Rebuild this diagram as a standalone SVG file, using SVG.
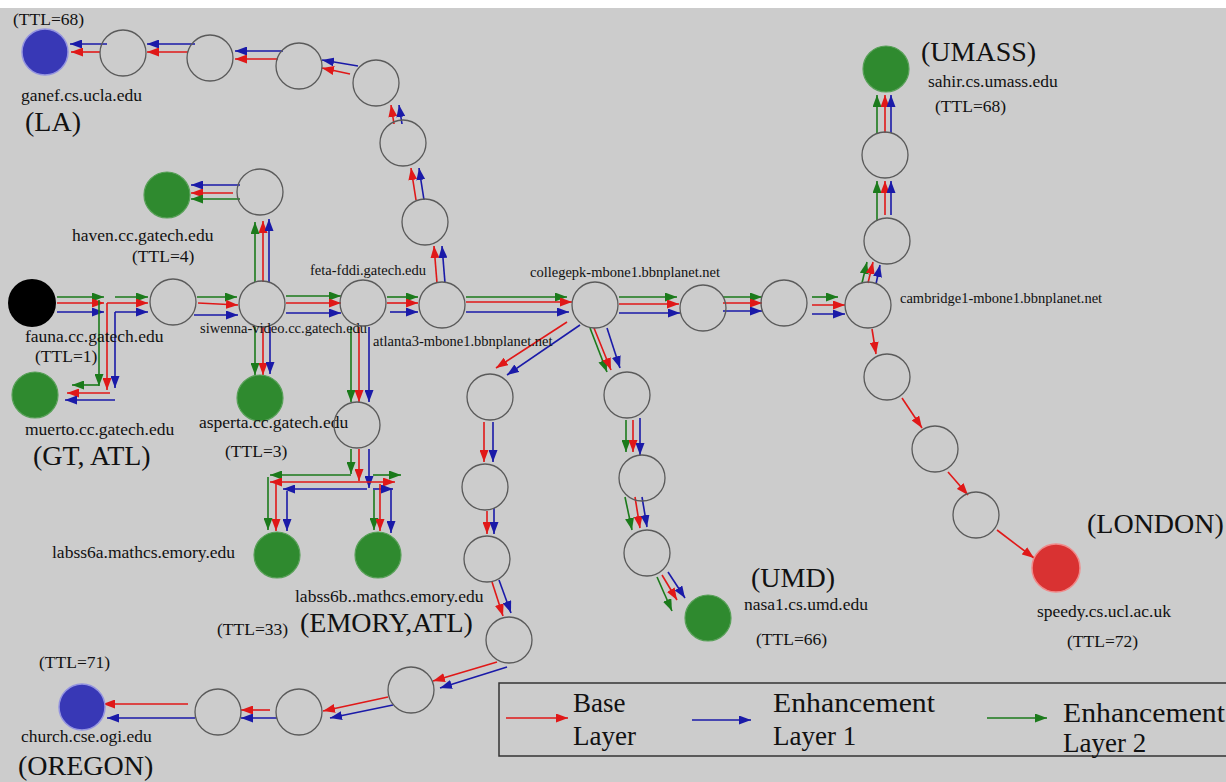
<svg xmlns="http://www.w3.org/2000/svg" width="1226" height="782" viewBox="0 0 1226 782">
<defs>
<marker id="mr" markerUnits="userSpaceOnUse" markerWidth="13" markerHeight="9" refX="12" refY="4.5" orient="auto"><path d="M0,0 L12,4.5 L0,9 z" fill="#e01818"/></marker>
<marker id="mb" markerUnits="userSpaceOnUse" markerWidth="13" markerHeight="9" refX="12" refY="4.5" orient="auto"><path d="M0,0 L12,4.5 L0,9 z" fill="#1a1aa8"/></marker>
<marker id="mg" markerUnits="userSpaceOnUse" markerWidth="13" markerHeight="9" refX="12" refY="4.5" orient="auto"><path d="M0,0 L12,4.5 L0,9 z" fill="#1b7a1b"/></marker>
</defs>
<style>
.r{stroke:#e01818;stroke-width:1.6;marker-end:url(#mr);fill:none}
.b{stroke:#1a1aa8;stroke-width:1.6;marker-end:url(#mb);fill:none}
.g{stroke:#1b7a1b;stroke-width:1.6;marker-end:url(#mg);fill:none}
.rt{fill:none;stroke:#5a5a5a;stroke-width:1.3}
.blue{fill:#3838b6;stroke:#9494e0;stroke-width:1.5}
.green{fill:#2f8a2f;stroke:#58a058;stroke-width:1.2}
.t{font-family:"Liberation Serif","Times New Roman",serif;font-size:17.5px;fill:#111}
.s{font-family:"Liberation Serif","Times New Roman",serif;font-size:14.5px;fill:#111}
.big{font-family:"Liberation Serif","Times New Roman",serif;font-size:28px;fill:#111}
.lg{font-family:"Liberation Serif","Times New Roman",serif;font-size:27px;fill:#111}
</style>
<rect x="0" y="0" width="1226" height="782" fill="#ffffff"/>
<rect x="0" y="8" width="1226" height="774" fill="#cccccc"/>

<g id="connectors">
<line class="r" x1="437" y1="283" x2="434" y2="246"/>
<line class="b" x1="445" y1="283" x2="442" y2="246"/>
<line class="r" x1="416" y1="200" x2="411" y2="168"/>
<line class="b" x1="424" y1="200" x2="419" y2="168"/>
<line class="r" x1="394" y1="124" x2="391" y2="105"/>
<line class="b" x1="402" y1="124" x2="399" y2="105"/>
<line class="b" x1="358" y1="66" x2="322" y2="60"/>
<line class="r" x1="350" y1="74" x2="322" y2="68"/>
<line class="b" x1="283" y1="51" x2="235" y2="51"/>
<line class="r" x1="278" y1="59" x2="235" y2="59"/>
<line class="b" x1="195" y1="44" x2="147" y2="44"/>
<line class="r" x1="188" y1="52" x2="147" y2="52"/>
<line class="b" x1="107" y1="44" x2="70" y2="44"/>
<line class="r" x1="100" y1="52" x2="71" y2="52"/>
<line class="g" x1="255" y1="282" x2="255" y2="222"/>
<line class="r" x1="263" y1="282" x2="263" y2="221"/>
<line class="b" x1="269" y1="282" x2="269" y2="219"/>
<line class="b" x1="240" y1="185" x2="191" y2="185"/>
<line class="r" x1="233" y1="193" x2="191" y2="193"/>
<line class="g" x1="240" y1="199" x2="191" y2="199"/>
<line class="g" x1="57" y1="297" x2="104" y2="297"/>
<line class="r" x1="57" y1="303" x2="104" y2="303"/>
<line class="b" x1="57" y1="312" x2="104" y2="312"/>
<line class="g" x1="99" y1="300" x2="99" y2="386"/>
<line class="r" x1="107" y1="303" x2="107" y2="390"/>
<line class="b" x1="115" y1="312" x2="115" y2="388"/>
<line class="g" x1="99" y1="385" x2="72" y2="385"/>
<line class="r" x1="110" y1="393" x2="67" y2="393"/>
<line class="b" x1="115" y1="400" x2="65" y2="400"/>
<line class="g" x1="115" y1="297" x2="148" y2="297"/>
<line class="r" x1="107" y1="303" x2="148" y2="303"/>
<line class="b" x1="115" y1="312" x2="148" y2="312"/>
<line class="g" x1="197" y1="297" x2="237" y2="297"/>
<line class="r" x1="198" y1="303" x2="238" y2="305"/>
<line class="b" x1="194" y1="315" x2="238" y2="315"/>
<line class="g" x1="286" y1="296" x2="341" y2="296"/>
<line class="r" x1="286" y1="303" x2="341" y2="303"/>
<line class="b" x1="286" y1="313" x2="341" y2="313"/>
<line class="g" x1="387" y1="297" x2="418" y2="297"/>
<line class="r" x1="387" y1="303" x2="418" y2="303"/>
<line class="b" x1="390" y1="312" x2="418" y2="312"/>
<line class="g" x1="466" y1="297" x2="567" y2="297"/>
<line class="r" x1="466" y1="302" x2="572" y2="302"/>
<line class="b" x1="466" y1="312" x2="569" y2="312"/>
<line class="g" x1="619" y1="297" x2="677" y2="297"/>
<line class="r" x1="619" y1="304" x2="679" y2="304"/>
<line class="b" x1="619" y1="313" x2="680" y2="313"/>
<line class="g" x1="723" y1="297" x2="762" y2="297"/>
<line class="r" x1="723" y1="303" x2="762" y2="303"/>
<line class="b" x1="723" y1="311" x2="762" y2="311"/>
<line class="g" x1="812" y1="297" x2="838" y2="297"/>
<line class="r" x1="812" y1="305" x2="845" y2="305"/>
<line class="b" x1="812" y1="314" x2="845" y2="314"/>
<line class="g" x1="862" y1="283" x2="867" y2="262"/>
<line class="r" x1="868" y1="283" x2="873" y2="262"/>
<line class="b" x1="876" y1="284" x2="880" y2="265"/>
<line class="g" x1="877" y1="221" x2="877" y2="181"/>
<line class="r" x1="885" y1="215" x2="885" y2="181"/>
<line class="b" x1="891" y1="215" x2="891" y2="181"/>
<line class="g" x1="877" y1="133" x2="877" y2="95"/>
<line class="r" x1="885" y1="133" x2="885" y2="95"/>
<line class="b" x1="891" y1="133" x2="891" y2="95"/>
<line class="r" x1="872" y1="329" x2="876" y2="354"/>
<line class="r" x1="902" y1="398" x2="922" y2="428"/>
<line class="r" x1="948" y1="472" x2="968" y2="495"/>
<line class="r" x1="997" y1="530" x2="1034" y2="558"/>
<line class="g" x1="255" y1="327" x2="255" y2="375"/>
<line class="r" x1="263" y1="327" x2="263" y2="375"/>
<line class="b" x1="270" y1="327" x2="270" y2="374"/>
<line class="g" x1="351" y1="327" x2="351" y2="402"/>
<line class="r" x1="359" y1="327" x2="359" y2="402"/>
<line class="b" x1="369" y1="327" x2="369" y2="402"/>
<line class="g" x1="351" y1="449" x2="351" y2="474"/>
<line class="r" x1="359" y1="449" x2="359" y2="481"/>
<line class="b" x1="369" y1="449" x2="369" y2="488"/>
<line class="g" x1="351" y1="475" x2="270" y2="475"/>
<line class="g" x1="373" y1="475" x2="401" y2="475"/>
<line class="r" x1="359" y1="482" x2="270" y2="482"/>
<line class="r" x1="359" y1="482" x2="395" y2="482"/>
<line class="b" x1="367" y1="489" x2="283" y2="489"/>
<line class="b" x1="373" y1="489" x2="393" y2="489"/>
<line class="g" x1="268" y1="477" x2="268" y2="530"/>
<line class="r" x1="276" y1="484" x2="276" y2="531"/>
<line class="b" x1="287" y1="491" x2="287" y2="531"/>
<line class="g" x1="374" y1="490" x2="374" y2="530"/>
<line class="r" x1="380" y1="484" x2="380" y2="531"/>
<line class="b" x1="391" y1="490" x2="391" y2="533"/>
<line class="r" x1="567" y1="322" x2="496" y2="368"/>
<line class="b" x1="580" y1="325" x2="507" y2="375"/>
<line class="r" x1="484" y1="422" x2="484" y2="462"/>
<line class="b" x1="493" y1="422" x2="493" y2="462"/>
<line class="r" x1="487" y1="511" x2="487" y2="534"/>
<line class="b" x1="494" y1="508" x2="494" y2="534"/>
<line class="r" x1="492" y1="582" x2="503" y2="616"/>
<line class="b" x1="499" y1="580" x2="511" y2="613"/>
<line class="r" x1="497" y1="662" x2="433" y2="681"/>
<line class="b" x1="507" y1="667" x2="440" y2="688"/>
<line class="r" x1="388" y1="697" x2="323" y2="711"/>
<line class="b" x1="393" y1="705" x2="330" y2="718"/>
<line class="r" x1="270" y1="710" x2="241" y2="710"/>
<line class="b" x1="277" y1="718" x2="241" y2="718"/>
<line class="r" x1="188" y1="704" x2="103" y2="704"/>
<line class="b" x1="195" y1="718" x2="107" y2="718"/>
<line class="g" x1="590" y1="328" x2="607" y2="372"/>
<line class="r" x1="594" y1="328" x2="611" y2="370"/>
<line class="b" x1="607" y1="328" x2="620" y2="368"/>
<line class="g" x1="626" y1="420" x2="626" y2="452"/>
<line class="r" x1="633" y1="420" x2="633" y2="452"/>
<line class="b" x1="640" y1="418" x2="640" y2="455"/>
<line class="g" x1="625" y1="497" x2="632" y2="530"/>
<line class="r" x1="635" y1="497" x2="640" y2="528"/>
<line class="b" x1="642" y1="497" x2="647" y2="527"/>
<line class="g" x1="657" y1="577" x2="672" y2="611"/>
<line class="r" x1="662" y1="575" x2="677" y2="600"/>
<line class="b" x1="668" y1="572" x2="685" y2="598"/>
</g>

<g id="ganef"><circle class="blue" cx="45" cy="52" r="23"/>
<text class="t" x="13" y="25">(TTL=68)</text>
<text class="t" x="21" y="101">ganef.cs.ucla.edu</text>
<text class="big" x="25" y="131">(LA)</text></g>
<g id="r-a1"><circle class="rt" cx="123" cy="53" r="23"/></g>
<g id="r-a2"><circle class="rt" cx="210" cy="58" r="23"/></g>
<g id="r-a3"><circle class="rt" cx="299" cy="66" r="23"/></g>
<g id="r-a4"><circle class="rt" cx="376" cy="83" r="23"/></g>
<g id="r-a5"><circle class="rt" cx="403" cy="143" r="23"/></g>
<g id="r-a6"><circle class="rt" cx="425" cy="222" r="23"/></g>

<g id="haven"><circle class="green" cx="167" cy="195" r="23"/>
<text class="t" x="72" y="241">haven.cc.gatech.edu</text>
<text class="t" x="132" y="262">(TTL=4)</text></g>
<g id="r-haven"><circle class="rt" cx="260" cy="192" r="23"/></g>

<g id="fauna"><circle cx="32" cy="303" r="24" fill="#000"/>
<text class="t" x="25" y="342">fauna.cc.gatech.edu</text>
<text class="t" x="35" y="362">(TTL=1)</text></g>
<g id="muerto"><circle class="green" cx="35" cy="395" r="23"/>
<text class="t" x="25" y="435">muerto.cc.gatech.edu</text>
<text class="big" x="33" y="465">(GT, ATL)</text></g>
<g id="r-b1"><circle class="rt" cx="173" cy="302" r="23"/></g>
<g id="siwenna"><circle class="rt" cx="262" cy="304" r="23"/>
<text class="s" x="200" y="333">siwenna-video.cc.gatech.edu</text></g>
<g id="feta"><circle class="rt" cx="363" cy="303" r="23"/>
<text class="s" x="310" y="275">feta-fddi.gatech.edu</text></g>
<g id="atlanta3"><circle class="rt" cx="442" cy="305" r="23"/>
<text class="s" x="373" y="346">atlanta3-mbone1.bbnplanet.net</text></g>
<g id="asperta"><circle class="green" cx="260" cy="398" r="23"/>
<text class="t" x="199" y="428">asperta.cc.gatech.edu</text>
<text class="t" x="225" y="457">(TTL=3)</text></g>
<g id="r-emory"><circle class="rt" cx="357" cy="425" r="23"/></g>
<g id="labss6a"><circle class="green" cx="277" cy="555" r="23"/>
<text class="t" x="52" y="558">labss6a.mathcs.emory.edu</text></g>
<g id="labss6b"><circle class="green" cx="378" cy="555" r="23"/>
<text class="t" x="295" y="602">labss6b..mathcs.emory.edu</text>
<text class="t" x="217" y="635">(TTL=33)</text>
<text class="big" x="300" y="632">(EMORY,ATL)</text></g>

<g id="collegepk"><circle class="rt" cx="595" cy="305" r="23"/>
<text class="s" x="530" y="277">collegepk-mbone1.bbnplanet.net</text></g>
<g id="r-c2"><circle class="rt" cx="703" cy="308" r="23"/></g>
<g id="r-c3"><circle class="rt" cx="784" cy="303" r="23"/></g>
<g id="cambridge"><circle class="rt" cx="868" cy="305" r="23"/>
<text class="s" x="900" y="303">cambridge1-mbone1.bbnplanet.net</text></g>
<g id="r-u2"><circle class="rt" cx="887" cy="241" r="23"/></g>
<g id="r-u1"><circle class="rt" cx="885" cy="155" r="23"/></g>
<g id="sahir"><circle class="green" cx="886" cy="69" r="23"/>
<text class="big" x="921" y="61">(UMASS)</text>
<text class="t" x="928" y="87">sahir.cs.umass.edu</text>
<text class="t" x="935" y="112">(TTL=68)</text></g>

<g id="r-l1"><circle class="rt" cx="887" cy="377" r="23"/></g>
<g id="r-l2"><circle class="rt" cx="935" cy="449" r="23"/></g>
<g id="r-l3"><circle class="rt" cx="976" cy="515" r="23"/></g>
<g id="speedy"><circle cx="1056" cy="568" r="24" fill="#d93232" stroke="#f08a8a" stroke-width="1.5"/>
<text class="big" x="1087" y="533">(LONDON)</text>
<text class="t" x="1037" y="617">speedy.cs.ucl.ac.uk</text>
<text class="t" x="1067" y="647">(TTL=72)</text></g>

<g id="r-d1"><circle class="rt" cx="490" cy="397" r="23"/></g>
<g id="r-d2"><circle class="rt" cx="485" cy="487" r="23"/></g>
<g id="r-d3"><circle class="rt" cx="487" cy="559" r="23"/></g>
<g id="r-d4"><circle class="rt" cx="509" cy="640" r="23"/></g>
<g id="r-d5"><circle class="rt" cx="411" cy="690" r="23"/></g>
<g id="r-d6"><circle class="rt" cx="299" cy="712" r="23"/></g>
<g id="r-d7"><circle class="rt" cx="218" cy="712" r="23"/></g>
<g id="church"><circle class="blue" cx="82" cy="707" r="23"/>
<text class="t" x="39" y="668">(TTL=71)</text>
<text class="t" x="21" y="742">church.cse.ogi.edu</text>
<text class="big" x="18" y="775">(OREGON)</text></g>

<g id="r-m1"><circle class="rt" cx="627" cy="395" r="23"/></g>
<g id="r-m2"><circle class="rt" cx="642" cy="478" r="23"/></g>
<g id="r-m3"><circle class="rt" cx="647" cy="553" r="23"/></g>
<g id="nasa1"><circle class="green" cx="708" cy="618" r="23"/>
<text class="big" x="751" y="587">(UMD)</text>
<text class="t" x="744" y="610">nasa1.cs.umd.edu</text>
<text class="t" x="756" y="645">(TTL=66)</text></g>

<g id="legend">
<rect x="499" y="683" width="740" height="73" fill="none" stroke="#333" stroke-width="1.5"/>
<line class="r" x1="506" y1="718" x2="568" y2="718"/>
<line class="b" x1="692" y1="720" x2="751" y2="720"/>
<line class="g" x1="987" y1="718" x2="1047" y2="718"/>
<text class="lg" x="573" y="712">Base</text>
<text class="lg" x="573" y="745">Layer</text>
<text class="lg" x="773" y="712" textLength="162" lengthAdjust="spacingAndGlyphs">Enhancement</text>
<text class="lg" x="773" y="745">Layer 1</text>
<text class="lg" x="1063" y="722" textLength="162" lengthAdjust="spacingAndGlyphs">Enhancement</text>
<text class="lg" x="1063" y="752">Layer 2</text>
</g>
</svg>
